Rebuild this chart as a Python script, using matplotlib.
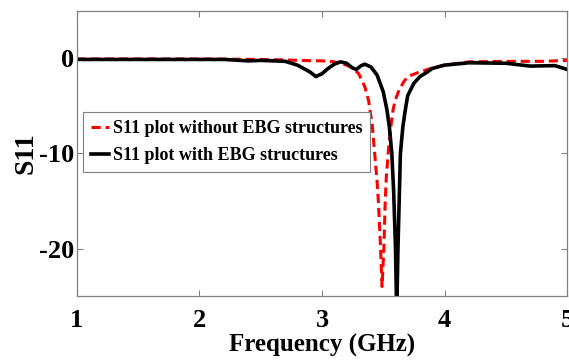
import matplotlib
matplotlib.use("Agg")
import matplotlib.pyplot as plt

# S11 without EBG structures (red dashed)
freq_no_ebg = [1.0, 1.5, 2.0, 2.5, 2.7, 2.8, 3.0, 3.1, 3.2, 3.25, 3.3, 3.35, 3.38,
               3.41, 3.43, 3.45, 3.46, 3.475, 3.49, 3.505, 3.515, 3.525, 3.54,
               3.56, 3.58, 3.6, 3.63, 3.67, 3.7, 3.8, 3.9, 4.0, 4.2, 4.5, 4.8, 5.0]
s11_no_ebg = [-0.05, -0.05, -0.05, -0.1, -0.15, -0.2, -0.25, -0.35, -0.7, -1.0, -1.6, -3.0, -4.4,
              -7.0, -10.0, -13.0, -15.0, -19.0, -24.0, -20.0, -15.5, -12.5, -10.0,
              -7.4, -5.4, -4.3, -3.3, -2.4, -1.9, -1.4, -1.0, -0.7, -0.35, -0.3, -0.3, -0.2]

# S11 with EBG structures (black solid)
freq_ebg = [1.0, 1.5, 2.0, 2.2, 2.4, 2.5, 2.7, 2.8, 2.9, 2.95, 3.0, 3.05, 3.1, 3.15, 3.2,
            3.25, 3.28, 3.32, 3.35, 3.4, 3.45, 3.5, 3.53, 3.55, 3.57, 3.585, 3.6, 3.61,
            3.62, 3.63, 3.64, 3.66, 3.68, 3.7, 3.75, 3.8, 3.85, 3.9, 4.0, 4.2, 4.5,
            4.7, 4.9, 5.0]
s11_ebg = [-0.1, -0.1, -0.1, -0.1, -0.25, -0.2, -0.3, -0.7, -1.4, -1.9, -1.6, -1.05, -0.6, -0.35, -0.5,
           -1.0, -1.15, -0.75, -0.6, -0.9, -1.75, -3.5, -5.4, -7.2, -10.0, -14.0, -20.0, -27.0,
           -20.0, -15.0, -10.0, -7.2, -5.4, -3.9, -2.6, -1.9, -1.5, -1.05, -0.7, -0.45, -0.5,
           -0.8, -0.75, -1.15]

x_ticks = [1, 2, 3, 4, 5]
y_ticks = [-20, -10, 0]

plt.rcParams['font.family'] = ['Liberation Serif', 'DejaVu Serif']
plt.rcParams['font.weight'] = 'bold'
plt.rcParams['axes.unicode_minus'] = False

fig = plt.figure(figsize=(5.69, 3.64), dpi=100)
ax = fig.add_axes([0.1353, 0.1868, 0.8612, 0.783])

ax.plot(freq_no_ebg, s11_no_ebg, color='red', linestyle='--', linewidth=2.2,
        dashes=(3, 1.6), label='S11 plot without EBG structures')
ax.plot(freq_ebg, s11_ebg, color='black', linewidth=2.6,
        label='S11 plot with EBG structures')

ax.set_xlim(1, 5)
ax.set_ylim(-25, 5)
ax.set_xticks(x_ticks)
ax.set_yticks(y_ticks)
ax.tick_params(direction='in', top=True, right=True, length=4, width=0.8,
               color='#808080', labelsize=19)
ax.tick_params(axis='x', pad=9)
ax.tick_params(axis='y', pad=2)
for lab in ax.get_xticklabels() + ax.get_yticklabels():
    lab.set_fontweight('bold')
for sp in ax.spines.values():
    sp.set_color('#808080')
    sp.set_linewidth(0.9)

ax.set_xlabel('Frequency (GHz)', fontsize=18, fontweight='bold', labelpad=2)
ax.set_ylabel('S11', fontsize=20, fontweight='bold', labelpad=0)

leg = ax.legend(loc='upper left', bbox_to_anchor=(0.012, 0.646), fontsize=13,
                handlelength=1.0, handletextpad=0.2, borderpad=0.45,
                labelspacing=0.55, borderaxespad=0, fancybox=False, framealpha=1)
leg.get_frame().set_edgecolor('#808080')
leg.get_frame().set_linewidth(0.8)
for t in leg.get_texts():
    t.set_fontweight('bold')

fig.savefig('out.png', dpi=100)
